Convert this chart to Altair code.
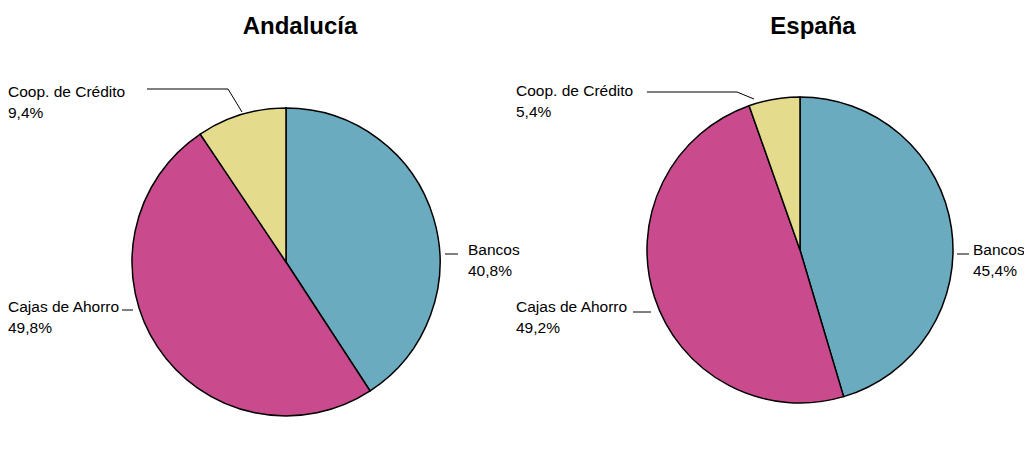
import altair as alt
import pandas as pd

# ---- data ----
regions = ["Andalucía", "España"]
categories = ["Bancos", "Cajas de Ahorro", "Coop. de Crédito"]
andalucia_values = [40.8, 49.8, 9.4]
espana_values = [45.4, 49.2, 5.4]
colors = ["#6AABBF", "#C94A8D", "#E5DB8D"]

rows = []
for reg, vals in zip(regions, [andalucia_values, espana_values]):
    for i, (c, v) in enumerate(zip(categories, vals)):
        rows.append({"region": reg, "category": c, "value": v, "order": i})
df = pd.DataFrame(rows)

# ---- layout (chart pixel coordinates) ----
pie_center = {"Andalucía": (278, 254, 154), "España": (792, 242, 153)}
title_pos = {"Andalucía": (292, 26), "España": (805, 26)}
label_pos = {
    ("Andalucía", "Bancos"): (460, 247),
    ("Andalucía", "Cajas de Ahorro"): (0, 304),
    ("Andalucía", "Coop. de Crédito"): (0, 89),
    ("España", "Bancos"): (965, 247),
    ("España", "Cajas de Ahorro"): (508, 304),
    ("España", "Coop. de Crédito"): (508, 88),
}
leaders = {
    ("Andalucía", "Bancos"): [(437, 246), (450, 246)],
    ("Andalucía", "Cajas de Ahorro"): [(114, 302), (125, 302)],
    ("Andalucía", "Coop. de Crédito"): [(139, 81), (220, 81), (234, 104)],
    ("España", "Bancos"): [(949, 246), (961, 246)],
    ("España", "Cajas de Ahorro"): [(625, 304), (643, 304)],
    ("España", "Coop. de Crédito"): [(639, 84), (729, 84), (746, 91)],
}

lab = df.copy()
lab["lx"] = [label_pos[(r, c)][0] for r, c in zip(df.region, df.category)]
lab["ly"] = [label_pos[(r, c)][1] for r, c in zip(df.region, df.category)]

lead_rows = []
for (r, c), pts in leaders.items():
    for k, (x, y) in enumerate(pts):
        lead_rows.append({"key": r + c, "k": k, "x": x, "y": y})
lead_df = pd.DataFrame(lead_rows)

title_df = pd.DataFrame({"region": regions,
                         "tx": [title_pos[r][0] for r in regions],
                         "ty": [title_pos[r][1] for r in regions]})

color_scale = alt.Scale(domain=categories, range=colors)
FONT = "Liberation Sans"

layers = []
for reg in regions:
    cx, cy, r = pie_center[reg]
    arc = alt.Chart(df).transform_filter(alt.datum.region == reg).mark_arc(
        radius=r, stroke="black", strokeWidth=1.5
    ).encode(
        theta=alt.Theta("value:Q", stack=True),
        order=alt.Order("order:Q"),
        color=alt.Color("category:N", scale=color_scale, legend=None),
        x=alt.value(cx), y=alt.value(cy),
    )
    layers.append(arc)

labels = alt.Chart(lab).transform_calculate(
    txt="datum.category + '\\n' + replace(format(datum.value, '.1f'), '.', ',') + '%'"
).mark_text(align="left", baseline="alphabetic", font=FONT, fontSize=15.5,
            lineBreak="\n", lineHeight=21, color="black").encode(
    x=alt.X("lx:Q", scale=None, axis=None),
    y=alt.Y("ly:Q", scale=None, axis=None),
    text="txt:N",
)

lines = alt.Chart(lead_df).mark_line(color="black", strokeWidth=1).encode(
    x=alt.X("x:Q", scale=None, axis=None),
    y=alt.Y("y:Q", scale=None, axis=None),
    detail="key:N",
    order="k:Q",
)

titles = alt.Chart(title_df).mark_text(
    align="center", baseline="alphabetic", font="Liberation Sans",
    fontSize=24, fontWeight="bold", color="black"
).encode(
    x=alt.X("tx:Q", scale=None, axis=None),
    y=alt.Y("ty:Q", scale=None, axis=None),
    text="region:N",
)

chart = alt.layer(*layers, lines, labels, titles).properties(
    width=1016, height=450, padding=0,
    autosize=alt.AutoSizeParams(type="none"),
).configure_view(stroke=None)

chart.save("out.html", embed_options={"renderer": "svg", "actions": False})
